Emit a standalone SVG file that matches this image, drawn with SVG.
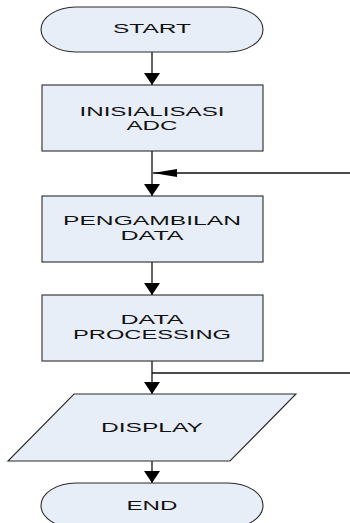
<svg xmlns="http://www.w3.org/2000/svg" width="350" height="523" viewBox="0 0 350 523">
<style>
.shape{fill:#E8EEF7;stroke:#2a2a2a;stroke-width:1.1}
.lbl{font-family:"Liberation Sans",Arial,sans-serif;font-size:12.5px;fill:#111;text-anchor:middle}
.conn{fill:none;stroke:#111;stroke-width:1.3}
</style>
<defs>
<marker id="ah" viewBox="0 0 12 16" refX="12" refY="8" markerWidth="12" markerHeight="16" markerUnits="userSpaceOnUse" orient="auto">
<path d="M0,0 L12,8 L0,16 Z" fill="#000"/>
</marker>
<marker id="ahw" viewBox="0 0 24 8" refX="24" refY="4" markerWidth="24" markerHeight="8" markerUnits="userSpaceOnUse" orient="auto">
<path d="M0,0 L24,4 L0,8 Z" fill="#000"/>
</marker>
</defs>
<rect width="350" height="523" fill="#fff"/>
<g id="connectors">
<line class="conn" x1="152" y1="52" x2="152" y2="85" marker-end="url(#ah)"/>
<line class="conn" x1="152" y1="151" x2="152" y2="196" marker-end="url(#ah)"/>
<line class="conn" x1="350" y1="173" x2="153" y2="173" marker-end="url(#ahw)"/>
<line class="conn" x1="152" y1="262" x2="152" y2="295" marker-end="url(#ah)"/>
<line class="conn" x1="152" y1="361" x2="152" y2="394" marker-end="url(#ah)"/>
<line class="conn" x1="152" y1="373" x2="350" y2="373" stroke-width="1"/>
<line class="conn" x1="152" y1="461" x2="152" y2="483" marker-end="url(#ah)"/>
</g>
<g id="start">
<path class="shape" d="M76,7 H228 A35,22.5 0 0 1 228,52 H76 A35,22.5 0 0 1 76,7 Z"/>
<text class="lbl" x="152" y="33" textLength="78" lengthAdjust="spacingAndGlyphs">START</text>
</g>
<g id="init">
<rect class="shape" x="42" y="85" width="221" height="66"/>
<text class="lbl" x="152" y="116" textLength="145" lengthAdjust="spacingAndGlyphs">INISIALISASI</text>
<text class="lbl" x="152" y="130" textLength="51" lengthAdjust="spacingAndGlyphs">ADC</text>
</g>
<g id="ambil">
<rect class="shape" x="42" y="196" width="221" height="66"/>
<text class="lbl" x="152" y="225" textLength="178" lengthAdjust="spacingAndGlyphs">PENGAMBILAN</text>
<text class="lbl" x="152" y="240" textLength="63" lengthAdjust="spacingAndGlyphs">DATA</text>
</g>
<g id="proc">
<rect class="shape" x="42" y="295" width="221" height="66"/>
<text class="lbl" x="152" y="324" textLength="63" lengthAdjust="spacingAndGlyphs">DATA</text>
<text class="lbl" x="152" y="339" textLength="158" lengthAdjust="spacingAndGlyphs">PROCESSING</text>
</g>
<g id="display">
<path class="shape" d="M74,394 H296 L230,461 H8 Z"/>
<text class="lbl" x="152" y="432" textLength="102" lengthAdjust="spacingAndGlyphs">DISPLAY</text>
</g>
<g id="end">
<path class="shape" d="M76,483 H228 A35,22.5 0 0 1 228,528 H76 A35,22.5 0 0 1 76,483 Z"/>
<text class="lbl" x="152" y="510" textLength="51" lengthAdjust="spacingAndGlyphs">END</text>
</g>
</svg>
